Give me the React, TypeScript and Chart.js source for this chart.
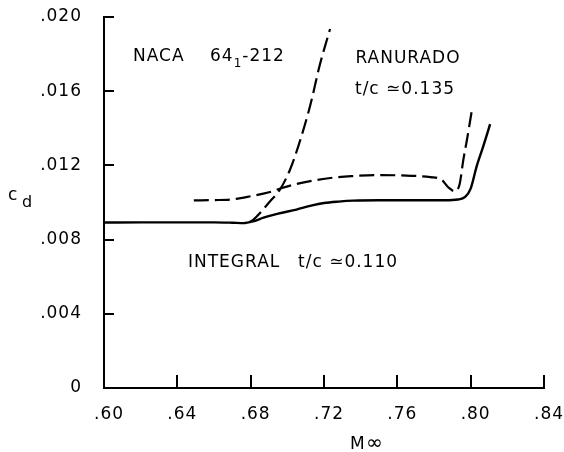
import React, { useEffect, useRef } from "react";
import { Chart, registerables } from "chart.js";

Chart.register(...registerables);

// Solid curve: INTEGRAL t/c = 0.110
const machIntegral = [0.600, 0.620, 0.640, 0.660, 0.670, 0.676, 0.6815, 0.687, 0.695, 0.705, 0.713, 0.720, 0.728, 0.736, 0.750, 0.770, 0.786, 0.793, 0.797, 0.800, 0.8033, 0.8069, 0.8106];
const cdIntegral = [0.00892, 0.00893, 0.00893, 0.00893, 0.00891, 0.00889, 0.00899, 0.00918, 0.00940, 0.00962, 0.00983, 0.00997, 0.01005, 0.01010, 0.01012, 0.01012, 0.01012, 0.01016, 0.01030, 0.01075, 0.01196, 0.01304, 0.01422];

// Dashed curve: RANURADO t/c = 0.135 (flat branch)
const machRanurado = [0.649, 0.660, 0.669, 0.680, 0.690, 0.697, 0.705, 0.715, 0.725, 0.735, 0.750, 0.765, 0.778, 0.784, 0.788, 0.7915, 0.794, 0.796, 0.798, 0.8006];
const cdRanurado = [0.01011, 0.01013, 0.01016, 0.01034, 0.01055, 0.01078, 0.01100, 0.01120, 0.01134, 0.01142, 0.01148, 0.01145, 0.01137, 0.01124, 0.01080, 0.01060, 0.01100, 0.01230, 0.01340, 0.01494];

// Dashed curve: steep rise branch
const machRise = [0.6795, 0.6815, 0.6851, 0.6906, 0.6960, 0.7015, 0.7060, 0.7124, 0.7178, 0.7233];
const cdRise = [0.00896, 0.00908, 0.00944, 0.01007, 0.01070, 0.01178, 0.01304, 0.01520, 0.01745, 0.01935];

const xTickValues = [0.60, 0.64, 0.68, 0.72, 0.76, 0.80, 0.84];
const xTickLabels = [".60", ".64", ".68", ".72", ".76", ".80", ".84"];
const yTickValues = [0, 0.004, 0.008, 0.012, 0.016, 0.020];
const yTickLabels = ["0", ".004", ".008", ".012", ".016", ".020"];

const FONT = '"DejaVu Sans", sans-serif';

const toPoints = (xs: number[], ys: number[]) => xs.map((x, i) => ({ x, y: ys[i] }));

const spacingPlugin = {
  id: "spacing",
  beforeDraw(chart: any) {
    (chart.ctx as any).letterSpacing = "1px";
  },
};

const annotationPlugin = {
  id: "annot",
  afterDraw(chart: any) {
    const ctx = chart.ctx as CanvasRenderingContext2D;
    const f = (s: number) => `${s}px ${FONT}`;
    ctx.save();
    (ctx as any).letterSpacing = "1px";
    ctx.fillStyle = "#000";
    ctx.textBaseline = "alphabetic";
    ctx.textAlign = "left";
    ctx.font = f(17);
    ctx.fillText("NACA", 133, 61);
    let x = 210;
    ctx.fillText("64", x, 61);
    x += ctx.measureText("64").width;
    ctx.font = f(12);
    ctx.fillText("1", x, 67);
    x += ctx.measureText("1").width;
    ctx.font = f(17);
    ctx.fillText("-212", x, 61);

    ctx.textAlign = "center";
    ctx.fillText("RANURADO", 408, 63);
    ctx.fillText("t/c ≃0.135", 405, 94);

    ctx.textAlign = "left";
    ctx.fillText("INTEGRAL", 188, 267);
    ctx.fillText("t/c ≃0.110", 298, 267);

    ctx.fillText("c", 8, 200);
    ctx.font = f(16);
    ctx.fillText("d", 22, 207);

    ctx.font = f(17);
    ctx.fillText("M", 350, 449);
    ctx.font = f(20);
    ctx.fillText("∞", 366, 449);
    ctx.restore();
  },
};

export default function App() {
  const ref = useRef<HTMLCanvasElement | null>(null);

  useEffect(() => {
    if (!ref.current) return;
    const common = {
      borderColor: "#000",
      borderWidth: 2.2,
      pointRadius: 0,
      fill: false,
      cubicInterpolationMode: "monotone" as const,
    };
    const chart = new Chart(ref.current, {
      type: "line",
      data: {
        datasets: [
          { ...common, label: "INTEGRAL t/c = 0.110", data: toPoints(machIntegral, cdIntegral), borderWidth: 2.4 },
          { ...common, label: "RANURADO t/c = 0.135", data: toPoints(machRanurado, cdRanurado), borderDash: [15, 6] },
          { ...common, label: "RANURADO rise", data: toPoints(machRise, cdRise), borderDash: [15, 6] },
        ],
      },
      options: {
        animation: false,
        responsive: false,
        layout: { padding: { top: 17, right: 20, left: 0, bottom: 0 } },
        plugins: { legend: { display: false }, tooltip: { enabled: false } },
        scales: {
          x: {
            type: "linear",
            min: 0.60,
            max: 0.84,
            afterBuildTicks: (s: any) => {
              s.ticks = xTickValues.map((v) => ({ value: v }));
            },
            afterFit: (s: any) => {
              s.height = 64;
              s.paddingLeft = 0;
              s.paddingRight = 0;
              s.paddingTop = 0;
              s.paddingBottom = 0;
            },
            grid: { drawOnChartArea: false, drawTicks: true, tickLength: -13, color: "#000", lineWidth: 2 },
            border: { display: true, color: "#000", width: 2 },
            ticks: {
              autoSkip: false,
              maxRotation: 0,
              padding: 29,
              labelOffset: 5,
              color: "#000",
              font: { family: FONT, size: 17 },
              callback: (_v: any, i: number) => xTickLabels[i],
            },
          },
          y: {
            type: "linear",
            min: 0,
            max: 0.020,
            afterBuildTicks: (s: any) => {
              s.ticks = yTickValues.map((v) => ({ value: v }));
            },
            afterFit: (s: any) => {
              s.width = 104;
              s.paddingLeft = 0;
              s.paddingRight = 0;
              s.paddingTop = 0;
              s.paddingBottom = 0;
            },
            grid: { drawOnChartArea: false, drawTicks: true, tickLength: -10, color: "#000", lineWidth: 2 },
            border: { display: true, color: "#000", width: 2 },
            ticks: {
              autoSkip: false,
              padding: 32,
              color: "#000",
              font: { family: FONT, size: 17 },
              callback: (_v: any, i: number) => yTickLabels[i],
            },
          },
        },
      },
      plugins: [spacingPlugin, annotationPlugin],
    });
    return () => chart.destroy();
  }, []);

  return (
    <div style={{ position: "fixed", left: 0, top: 0, width: 564, height: 452, background: "#fff" }}>
      <canvas ref={ref} width={564} height={452} style={{ display: "block" }} />
    </div>
  );
}
